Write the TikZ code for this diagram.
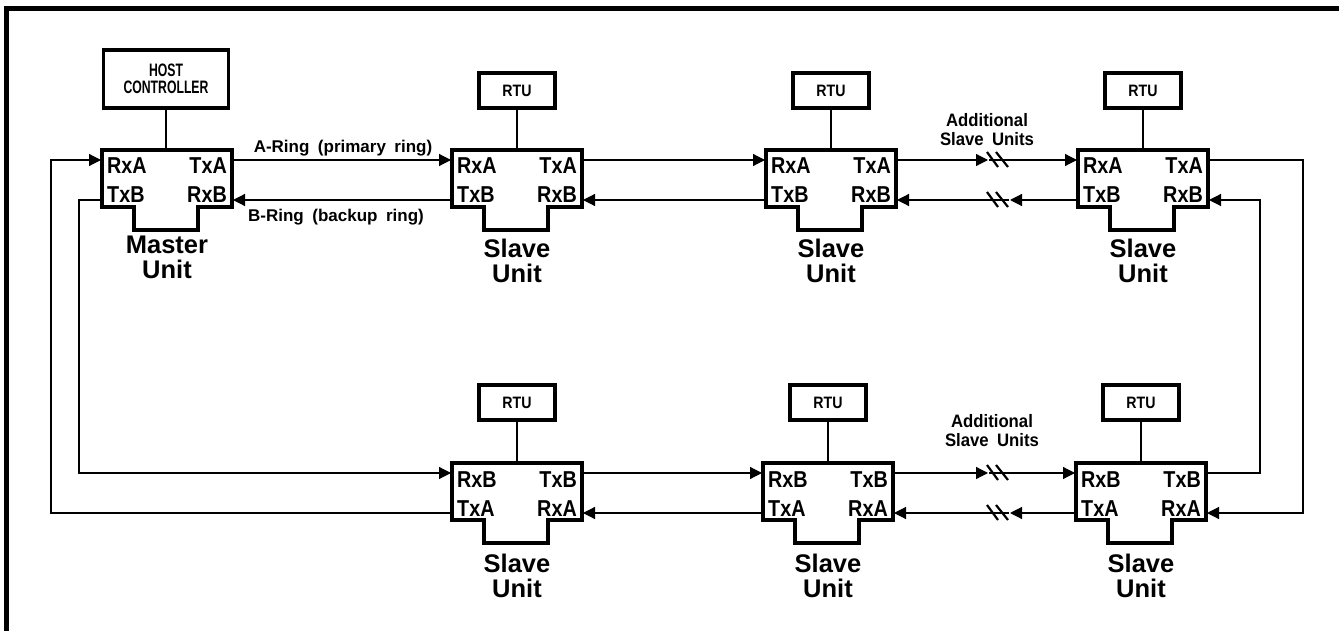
\documentclass[tikz,border=0pt]{standalone}
\usepackage{fontspec}
\setmainfont{Liberation Sans}
\newfontfamily\narrowf[FakeStretch=0.86]{Liberation Sans}
\newfontfamily\tightf[FakeStretch=0.68]{Liberation Sans}
\newfontfamily\widef[WordSpace=1.8]{Liberation Sans}
\newfontfamily\addf[FakeStretch=0.93,WordSpace=1.8]{Liberation Sans}
\usetikzlibrary{arrows.meta,calc}
\tikzset{
  ubox/.style={minimum width=130pt, minimum height=57pt, inner sep=0pt, outer sep=0pt},
  uline/.style={line width=3.5pt, line join=miter},
  rtubox/.style={draw, line width=3.5pt, minimum width=76pt, minimum height=35pt, inner sep=0pt,
    font=\narrowf\bfseries\fontsize{16.5}{18}\selectfont},
  port/.style={inner sep=0pt, font=\narrowf\bfseries\fontsize{23}{24}\selectfont},
  ulabel/.style={inner sep=0pt, align=center, anchor=north, font=\bfseries\fontsize{25.5}{25}\selectfont},
  ringlab/.style={inner sep=0pt, anchor=base, font=\widef\bfseries\fontsize{17}{18}\selectfont},
  addlab/.style={inner sep=0pt, anchor=north, align=center, font=\addf\bfseries\fontsize{18}{19}\selectfont},
  conn/.style={line width=1.2pt},
  arr/.style={conn, -{Triangle[length=12pt,width=12pt]}, shorten >=1pt},
  brk/.style={line width=2.2pt},
  frameline/.style={line width=5pt, line join=miter},
}
\newcommand\tunit[7]{%
  \node[ubox, anchor=north west] (#1) at (#2,#3) {};
  \draw[uline] (#1.north west) -- (#1.north east) -- (#1.south east) -- ++(-34,0) -- ++(0,23)
     -- ++(-64,0) -- ++(0,-23) -- (#1.south west) -- cycle;
  \coordinate (#1-w1) at ($(#1.north west)+(0,10)$);
  \coordinate (#1-w2) at ($(#1.north west)+(0,50)$);
  \coordinate (#1-e1) at ($(#1.north east)+(0,10)$);
  \coordinate (#1-e2) at ($(#1.north east)+(0,50)$);
  \node[port, anchor=base west] (#1-l1) at ($(#1.north west)+(5,24)$) {#4};
  \node[port, anchor=base east] (#1-l2) at ($(#1.north east)+(-5,24)$) {#5};
  \node[port, anchor=base west] (#1-l3) at ($(#1.north west)+(5,53)$) {#6};
  \node[port, anchor=base east] (#1-l4) at ($(#1.north east)+(-5,53)$) {#7};
}
\begin{document}
\begin{tikzpicture}[x=1pt,y=-1pt]
\useasboundingbox (0,0) rectangle (1339,631);
\draw[frameline] (6.5,640) -- (6.5,8.5) -- (1345,8.5);

% upper row
\tunit{m}{102}{150}{RxA}{TxA}{TxB}{RxB}
\tunit{s1}{452}{150}{RxA}{TxA}{TxB}{RxB}
\tunit{s2}{766}{150}{RxA}{TxA}{TxB}{RxB}
\tunit{s3}{1078}{150}{RxA}{TxA}{TxB}{RxB}
% lower row
\tunit{l1}{452}{463}{RxB}{TxB}{TxA}{RxA}
\tunit{l2}{763}{463}{RxB}{TxB}{TxA}{RxA}
\tunit{l3}{1076}{463}{RxB}{TxB}{TxA}{RxA}

% host and RTUs
\node[rtubox, minimum width=125pt, minimum height=58pt, align=center,
      font=\tightf\bfseries\fontsize{18}{16.5}\selectfont] (host) at (166,79) {HOST\\CONTROLLER};
\draw[conn] (host.south) -- (host.south |- m.north);
\foreach \u in {s1,s2,s3}{
  \node[rtubox] (rtu-\u) at ($(\u.north)+(0,-59.5)$) {RTU};
  \draw[conn] (rtu-\u.south) -- (\u.north);
}
\foreach \u in {l1,l2,l3}{
  \node[rtubox] (rtu-\u) at ($(\u.north)+(0,-60.5)$) {RTU};
  \draw[conn] (rtu-\u.south) -- (\u.north);
}

% unit labels
\node[ulabel] (lab-m) at ($(m.north)+(0,86)$) {Master\\Unit};
\foreach \u in {s1,s2,s3}{\node[ulabel] (lab-\u) at ($(\u.north)+(0,89)$) {Slave\\Unit};}
\foreach \u in {l1,l2,l3}{\node[ulabel] (lab-\u) at ($(\u.north)+(0,91)$) {Slave\\Unit};}

% ring labels
\node[ringlab] (alab) at (343,153) {A-Ring (primary ring)};
\node[ringlab] (blab) at (336,222) {B-Ring (backup ring)};
\node[addlab] (add1) at (987,113) {Additional\\Slave Units};
\node[addlab] (add2) at (992,414) {Additional\\Slave Units};

% gap positions
\coordinate (ga) at (989,0);
\coordinate (gb) at (1009,0);

% upper connections
\draw[arr] (m-e1) -- (s1-w1);
\draw[arr] (s1-w2) -- (m-e2);
\draw[arr] (s1-e1) -- (s2-w1);
\draw[arr] (s2-w2) -- (s1-e2);
\draw[arr] (s2-e1) -- (s2-e1 -| ga);
\draw[arr] (s2-e1 -| ga) -- (s3-w1);
\draw[arr] (s3-w2) -- (s3-w2 -| gb);
\draw[arr] (s3-w2 -| gb) -- (s2-e2);
\draw[brk] ($(s2-e1 -| ga)+(-2,-8)$) -- ++(11,15);
\draw[brk] ($(s2-e1 -| ga)+(7,-8)$) -- ++(12,15);
\draw[brk] ($(s3-w2 -| ga)+(-2,-8)$) -- ++(11,15);
\draw[brk] ($(s3-w2 -| ga)+(7,-8)$) -- ++(12,15);

% lower connections
\draw[arr] (l1-e1) -- (l2-w1);
\draw[arr] (l2-w2) -- (l1-e2);
\draw[arr] (l2-e1) -- (l2-e1 -| ga);
\draw[arr] (l2-e1 -| ga) -- (l3-w1);
\draw[arr] (l3-w2) -- (l3-w2 -| gb);
\draw[arr] (l3-w2 -| gb) -- (l2-e2);
\draw[brk] ($(l2-e1 -| ga)+(-2,-8)$) -- ++(11,15);
\draw[brk] ($(l2-e1 -| ga)+(7,-8)$) -- ++(12,15);
\draw[brk] ($(l3-w2 -| ga)+(-2,-8)$) -- ++(11,15);
\draw[brk] ($(l3-w2 -| ga)+(7,-8)$) -- ++(12,15);

% ring closures
\draw[arr] (s3-e1) -- ++(95,0) |- (l3-e2);
\draw[arr] (l3-e1) -- ++(54,0) |- (s3-e2);
\draw[arr] (l1-w2) -- ++(-401,0) |- (m-w1);
\draw[arr] (m-w2) -- ++(-23,0) |- (l1-w1);
\end{tikzpicture}
\end{document}
